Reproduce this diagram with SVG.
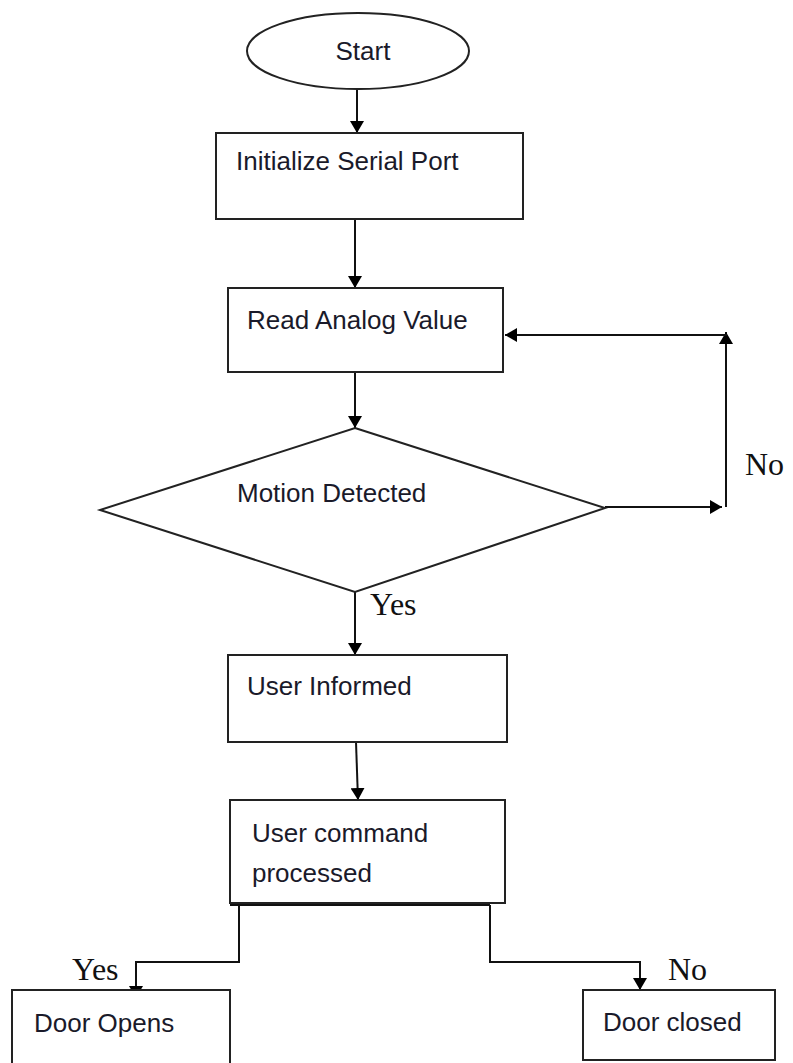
<svg xmlns="http://www.w3.org/2000/svg" width="793" height="1063" viewBox="0 0 793 1063">
<style>
.box{fill:#fff;stroke:#222;stroke-width:2}
.t{font-family:"Liberation Sans","Open Sans",sans-serif;font-size:26px;fill:#1a1a2a}
.s{font-family:"Liberation Serif","Times New Roman",serif;font-size:32px;fill:#111}
.c{fill:none;stroke:#111;stroke-width:2}
</style>
<defs>
<marker id="ah" viewBox="0 0 10 10" refX="10" refY="5" markerWidth="12" markerHeight="14" markerUnits="userSpaceOnUse" orient="auto" preserveAspectRatio="none">
<path d="M0,0 L10,5 L0,10 z" fill="#000"/>
</marker>
</defs>
<rect width="793" height="1063" fill="#fff"/>
<g id="connectors">
<line class="c" x1="357" y1="90" x2="357" y2="133" marker-end="url(#ah)"/>
<line class="c" x1="355" y1="219" x2="355" y2="288" marker-end="url(#ah)"/>
<line class="c" x1="355" y1="372" x2="355" y2="428" marker-end="url(#ah)"/>
<line class="c" x1="605" y1="507" x2="722" y2="507" marker-end="url(#ah)"/>
<line class="c" x1="726" y1="507" x2="726" y2="332" marker-end="url(#ah)"/>
<line class="c" x1="727" y1="335" x2="505" y2="335" marker-end="url(#ah)"/>
<line class="c" x1="355" y1="592" x2="355" y2="655" marker-end="url(#ah)"/>
<line class="c" x1="356" y1="742" x2="358" y2="800" marker-end="url(#ah)"/>
<polyline class="c" points="230,905 490,905"/>
<polyline class="c" points="239,905 239,962 136,962 136,998" marker-end="url(#ah)"/>
<polyline class="c" points="490,905 490,962 640,962 640,990" marker-end="url(#ah)"/>
<text class="s" x="745" y="475">No</text>
<text class="s" x="370" y="615">Yes</text>
<text class="s" x="72" y="980">Yes</text>
<text class="s" x="668" y="980">No</text>
</g>
<g id="start">
<ellipse class="box" cx="358" cy="51" rx="111" ry="38"/>
<text class="t" x="363" y="60" text-anchor="middle">Start</text>
</g>
<g id="init">
<rect class="box" x="216" y="133" width="307" height="86"/>
<text class="t" x="236" y="170">Initialize Serial Port</text>
</g>
<g id="read">
<rect class="box" x="228" y="288" width="275" height="84"/>
<text class="t" x="247" y="329">Read Analog Value</text>
</g>
<g id="motion">
<polygon class="box" points="355,428 605,508 355,592 100,510"/>
<text class="t" x="237" y="502">Motion Detected</text>
</g>
<g id="informed">
<rect class="box" x="228" y="655" width="279" height="87"/>
<text class="t" x="247" y="695">User Informed</text>
</g>
<g id="command">
<rect class="box" x="230" y="800" width="275" height="103"/>
<text class="t" x="252" y="842">User command</text>
<text class="t" x="252" y="882">processed</text>
</g>
<g id="opens">
<rect class="box" x="12" y="990" width="218" height="80"/>
<text class="t" x="34" y="1032">Door Opens</text>
</g>
<g id="closed">
<rect class="box" x="583" y="990" width="192" height="70"/>
<text class="t" x="603" y="1031">Door closed</text>
</g>
</svg>
